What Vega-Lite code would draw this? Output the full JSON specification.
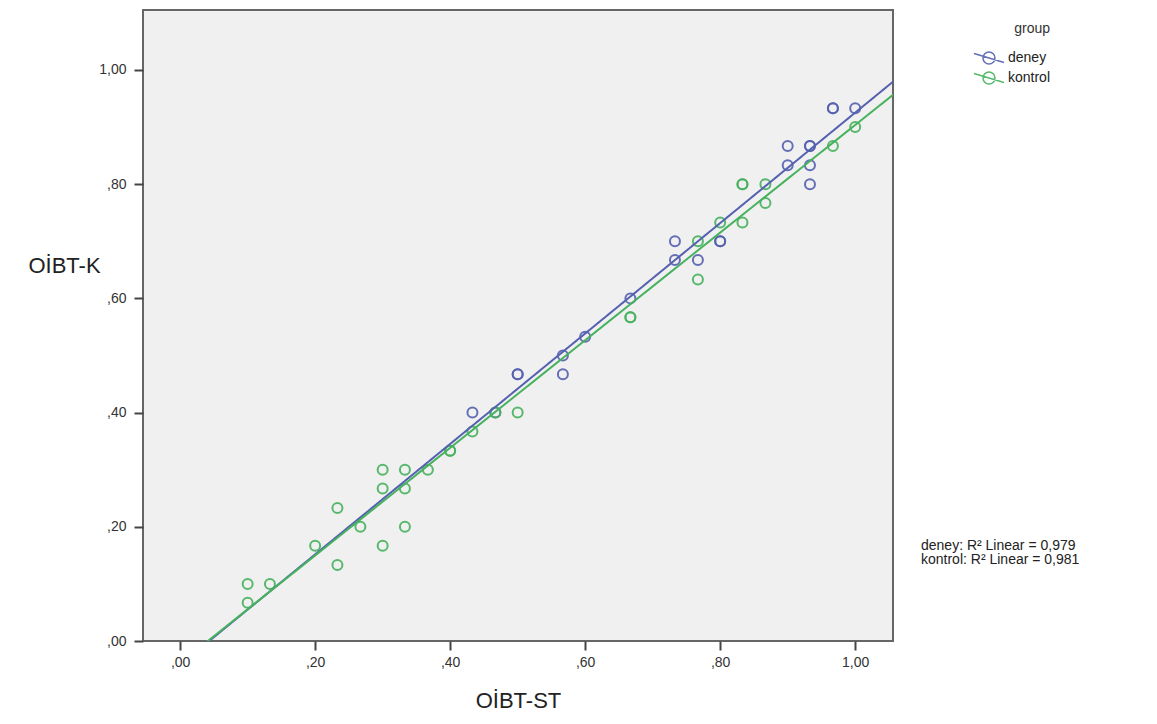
{
  "$schema": "https://vega.github.io/schema/vega-lite/v6.json",
  "width": 750,
  "height": 631,
  "autosize": {"type": "none"},
  "padding": {"left": 143, "top": 10, "right": 264, "bottom": 83},
  "background": "white",
  "config": {
    "view": {"fill": "#F0F0F0", "stroke": "#666666", "strokeWidth": 2},
    "font": "Liberation Sans"
  },
  "data": {
    "values": [
      {"group": "deney", "fit": "deney", "x": 0.433, "y": 0.4},
      {"group": "deney", "fit": "deney", "x": 0.467, "y": 0.4},
      {"group": "deney", "fit": "deney", "x": 0.5, "y": 0.467},
      {"group": "deney", "fit": "deney", "x": 0.5, "y": 0.467},
      {"group": "deney", "fit": "deney", "x": 0.567, "y": 0.5},
      {"group": "deney", "fit": "deney", "x": 0.567, "y": 0.467},
      {"group": "deney", "fit": "deney", "x": 0.6, "y": 0.533},
      {"group": "deney", "fit": "deney", "x": 0.667, "y": 0.6},
      {"group": "deney", "fit": "deney", "x": 0.733, "y": 0.7},
      {"group": "deney", "fit": "deney", "x": 0.733, "y": 0.667},
      {"group": "deney", "fit": "deney", "x": 0.767, "y": 0.667},
      {"group": "deney", "fit": "deney", "x": 0.8, "y": 0.7},
      {"group": "deney", "fit": "deney", "x": 0.8, "y": 0.7},
      {"group": "deney", "fit": "deney", "x": 0.9, "y": 0.867},
      {"group": "deney", "fit": "deney", "x": 0.9, "y": 0.833},
      {"group": "deney", "fit": "deney", "x": 0.933, "y": 0.867},
      {"group": "deney", "fit": "deney", "x": 0.933, "y": 0.867},
      {"group": "deney", "fit": "deney", "x": 0.933, "y": 0.833},
      {"group": "deney", "fit": "deney", "x": 0.933, "y": 0.8},
      {"group": "deney", "fit": "deney", "x": 0.967, "y": 0.933},
      {"group": "deney", "fit": "deney", "x": 0.967, "y": 0.933},
      {"group": "deney", "fit": "deney", "x": 1.0, "y": 0.933},
      {"group": "kontrol", "fit": "kontrol", "x": 0.1, "y": 0.1},
      {"group": "kontrol", "fit": "kontrol", "x": 0.133, "y": 0.1},
      {"group": "kontrol", "fit": "kontrol", "x": 0.1, "y": 0.067},
      {"group": "kontrol", "fit": "kontrol", "x": 0.2, "y": 0.167},
      {"group": "kontrol", "fit": "kontrol", "x": 0.233, "y": 0.233},
      {"group": "kontrol", "fit": "kontrol", "x": 0.233, "y": 0.133},
      {"group": "kontrol", "fit": "kontrol", "x": 0.267, "y": 0.2},
      {"group": "kontrol", "fit": "kontrol", "x": 0.3, "y": 0.3},
      {"group": "kontrol", "fit": "kontrol", "x": 0.3, "y": 0.267},
      {"group": "kontrol", "fit": "kontrol", "x": 0.3, "y": 0.167},
      {"group": "kontrol", "fit": "kontrol", "x": 0.333, "y": 0.3},
      {"group": "kontrol", "fit": "kontrol", "x": 0.333, "y": 0.267},
      {"group": "kontrol", "fit": "kontrol", "x": 0.333, "y": 0.2},
      {"group": "kontrol", "fit": "kontrol", "x": 0.367, "y": 0.3},
      {"group": "kontrol", "fit": "kontrol", "x": 0.4, "y": 0.333},
      {"group": "kontrol", "fit": "kontrol", "x": 0.4, "y": 0.333},
      {"group": "kontrol", "fit": "kontrol", "x": 0.433, "y": 0.367},
      {"group": "kontrol", "fit": "kontrol", "x": 0.467, "y": 0.4},
      {"group": "kontrol", "fit": "kontrol", "x": 0.5, "y": 0.4},
      {"group": "kontrol", "fit": "kontrol", "x": 0.667, "y": 0.567},
      {"group": "kontrol", "fit": "kontrol", "x": 0.667, "y": 0.567},
      {"group": "kontrol", "fit": "kontrol", "x": 0.767, "y": 0.7},
      {"group": "kontrol", "fit": "kontrol", "x": 0.767, "y": 0.633},
      {"group": "kontrol", "fit": "kontrol", "x": 0.8, "y": 0.733},
      {"group": "kontrol", "fit": "kontrol", "x": 0.833, "y": 0.733},
      {"group": "kontrol", "fit": "kontrol", "x": 0.833, "y": 0.8},
      {"group": "kontrol", "fit": "kontrol", "x": 0.833, "y": 0.8},
      {"group": "kontrol", "fit": "kontrol", "x": 0.867, "y": 0.8},
      {"group": "kontrol", "fit": "kontrol", "x": 0.867, "y": 0.767},
      {"group": "kontrol", "fit": "kontrol", "x": 0.967, "y": 0.867},
      {"group": "kontrol", "fit": "kontrol", "x": 1.0, "y": 0.9}
    ]
  },
  "layer": [
    {
      "mark": {"type": "point", "shape": "circle", "filled": false, "strokeWidth": 2, "size": 100, "opacity": 0.9, "clip": true},
      "encoding": {
        "x": {
          "field": "x", "type": "quantitative",
          "scale": {"domain": [-0.055, 1.056], "nice": false, "zero": false},
          "axis": {
            "title": "OİBT-ST", "values": [0, 0.2, 0.4, 0.6, 0.8, 1],
            "labelExpr": "datum.value >= 0.999 ? '1,00' : ',' + substring(format(datum.value, '.2f'), 2)",
            "domain": false, "grid": false, "tickSize": 9, "tickWidth": 2, "tickColor": "#444444",
            "labelFontSize": 14, "labelColor": "#333333", "labelPadding": 5,
            "titleFontSize": 22, "titleFontWeight": "normal", "titleColor": "#222222", "titlePadding": 21
          }
        },
        "y": {
          "field": "y", "type": "quantitative",
          "scale": {"domain": [0, 1.105], "nice": false, "zero": false},
          "axis": {
            "title": "OİBT-K", "values": [0, 0.2, 0.4, 0.6, 0.8, 1],
            "labelExpr": "datum.value >= 0.999 ? '1,00' : ',' + substring(format(datum.value, '.2f'), 2)",
            "domain": false, "grid": false, "tickSize": 9, "tickWidth": 2, "tickColor": "#444444",
            "labelFontSize": 14, "labelColor": "#333333", "labelPadding": 8,
            "titleFontSize": 22, "titleFontWeight": "normal", "titleColor": "#222222",
            "titleAngle": 0, "titleX": -79, "titleY": 255, "titleAlign": "center", "titleBaseline": "middle"
          }
        },
        "color": {
          "field": "group", "type": "nominal",
          "scale": {"domain": ["deney", "kontrol"], "range": ["#5561b0", "#47b25e"]},
          "legend": {
            "title": "group", "orient": "none", "legendX": 835, "legendY": 12,
            "titleFontSize": 14, "titleFontWeight": "normal", "titleColor": "#333333", "titleAnchor": "end", "titlePadding": 11,
            "labelFontSize": 14, "labelColor": "#222222", "labelOffset": 8,
            "symbolType": "M-1.5,-0.45L1.5,0.45M-0.6,0A0.6,0.6,0,1,1,0.6,0A0.6,0.6,0,1,1,-0.6,0",
            "symbolSize": 400, "symbolStrokeWidth": 1.5, "rowPadding": 0, "padding": 0
          }
        }
      }
    },
    {
      "transform": [{"regression": "y", "on": "x", "groupby": ["group", "fit"], "extent": [-0.06, 1.06]}],
      "mark": {"type": "line", "strokeWidth": 2, "clip": true},
      "encoding": {
        "x": {"field": "x", "type": "quantitative"},
        "y": {"field": "y", "type": "quantitative"},
        "color": {"field": "group", "type": "nominal"},
        "strokeDash": {
          "field": "fit", "type": "nominal",
          "scale": {"range": [[1, 0], [1, 0]]},
          "legend": {
            "title": null, "orient": "none", "legendX": 764, "legendY": 529,
            "labelExpr": "datum.label == 'deney' ? 'deney: R² Linear = 0,979' : 'kontrol: R² Linear = 0,981'",
            "labelFontSize": 14, "labelColor": "#222222", "labelOffset": 0,
            "symbolType": "circle", "symbolSize": 0, "symbolStrokeWidth": 0, "symbolOpacity": 0,
            "rowPadding": -2, "padding": 0
          }
        }
      }
    }
  ]
}
